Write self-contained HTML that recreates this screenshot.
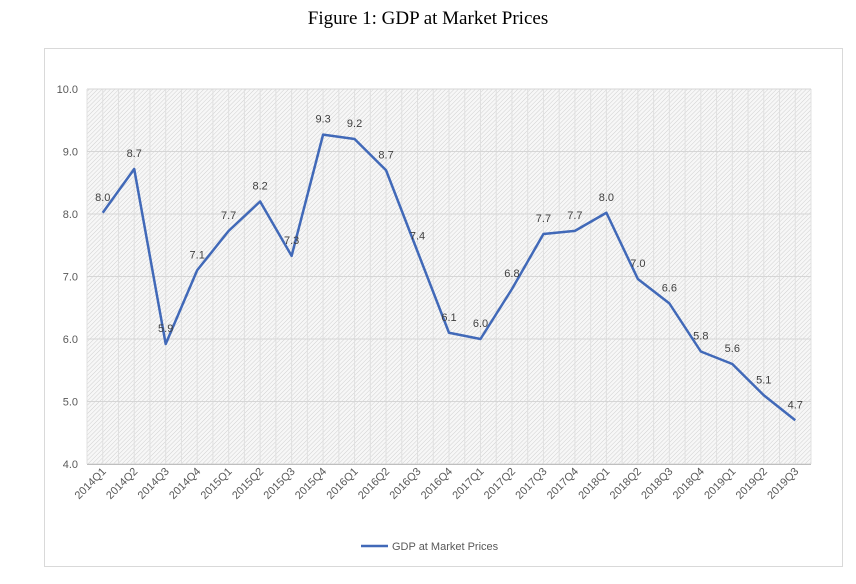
<!DOCTYPE html>
<html><head><meta charset="utf-8"><style>
body{margin:0;background:#fff;width:856px;height:579px;overflow:hidden}
svg text{font-family:"Liberation Sans",sans-serif}
</style></head><body>
<svg width="856" height="579">
<defs><pattern id="hatch" width="3" height="3" patternUnits="userSpaceOnUse" patternTransform="rotate(45)">
<rect width="3" height="3" fill="#f7f7f7"/><line x1="0" y1="0" x2="0" y2="3" stroke="#d0d0d0" stroke-width="1"/></pattern></defs>
<text x="428" y="24" text-anchor="middle" font-size="19" style="font-family:'Liberation Serif',serif">Figure 1: GDP at Market Prices</text>
<rect x="44.5" y="48.5" width="798" height="518" fill="none" stroke="#d9d9d9"/>
<rect x="87" y="89" width="724" height="375" fill="url(#hatch)"/>
<g id="grid"></g><g id="axes"></g><g id="series"></g>
<line x1="361" y1="546" x2="388" y2="546" stroke="#4169b8" stroke-width="2.5"/>
<text x="392" y="550" font-size="11" fill="#595959">GDP at Market Prices</text>
</svg>
<script>
const categories=["2014Q1","2014Q2","2014Q3","2014Q4","2015Q1","2015Q2","2015Q3","2015Q4","2016Q1","2016Q2","2016Q3","2016Q4","2017Q1","2017Q2","2017Q3","2017Q4","2018Q1","2018Q2","2018Q3","2018Q4","2019Q1","2019Q2","2019Q3"];
const values=[8.02,8.72,5.92,7.1,7.73,8.2,7.33,9.27,9.2,8.7,7.4,6.1,6.0,6.8,7.68,7.73,8.02,6.96,6.57,5.8,5.6,5.1,4.7];
const yTicks=[4,5,6,7,8,9,10];
const NS="http://www.w3.org/2000/svg";
const L=87,R=811,T=89,B=464,yMin=4,yMax=10;
const bw=(R-L)/categories.length;
const x=i=>L+(i+0.5)*bw;
const y=v=>B-(v-yMin)/(yMax-yMin)*(B-T);
function mk(tag,attrs,parent,text){const e=document.createElementNS(NS,tag);for(const k in attrs)e.setAttribute(k,attrs[k]);if(text!==undefined)e.textContent=text;document.getElementById(parent).appendChild(e);return e;}
for(let i=0;i<=categories.length*2;i++){const gx=L+i*bw/2;
 const g=mk('line',{x1:gx,y1:T,x2:gx,y2:B,stroke:'#e0e0e0','stroke-width':1},'grid');
 
 }
yTicks.forEach(t=>{
 const g=mk('line',{x1:L,y1:y(t),x2:R,y2:y(t),stroke:'#d6d6d6','stroke-width':1},'grid');
 
 
 const tl=mk('text',{x:78,y:y(t)+4,'text-anchor':'end','font-size':11,fill:'#595959'},'axes',t.toFixed(1));
 
 
});
const ax=mk('line',{x1:L,y1:B+0.5,x2:R,y2:B+0.5,stroke:'#bfbfbf'},'axes');


categories.forEach((c,i)=>{
 const tx=x(i)+4,ty=472;
 const t=mk('text',{x:tx,y:ty,'text-anchor':'end','font-size':11,fill:'#595959',transform:`rotate(-45 ${tx} ${ty})`},'axes',c);
 
 
});
const p=mk('polyline',{points:values.map((v,i)=>x(i)+','+y(v)).join(' '),fill:'none',stroke:'#4169b8','stroke-width':2.5,'stroke-linejoin':'round'},'series');


values.forEach((v,i)=>{
 const t=mk('text',{x:x(i),y:y(v)-12,'text-anchor':'middle','font-size':11,fill:'#404040'},'series',v.toFixed(1));
 
 
});
</script>
</body></html>
